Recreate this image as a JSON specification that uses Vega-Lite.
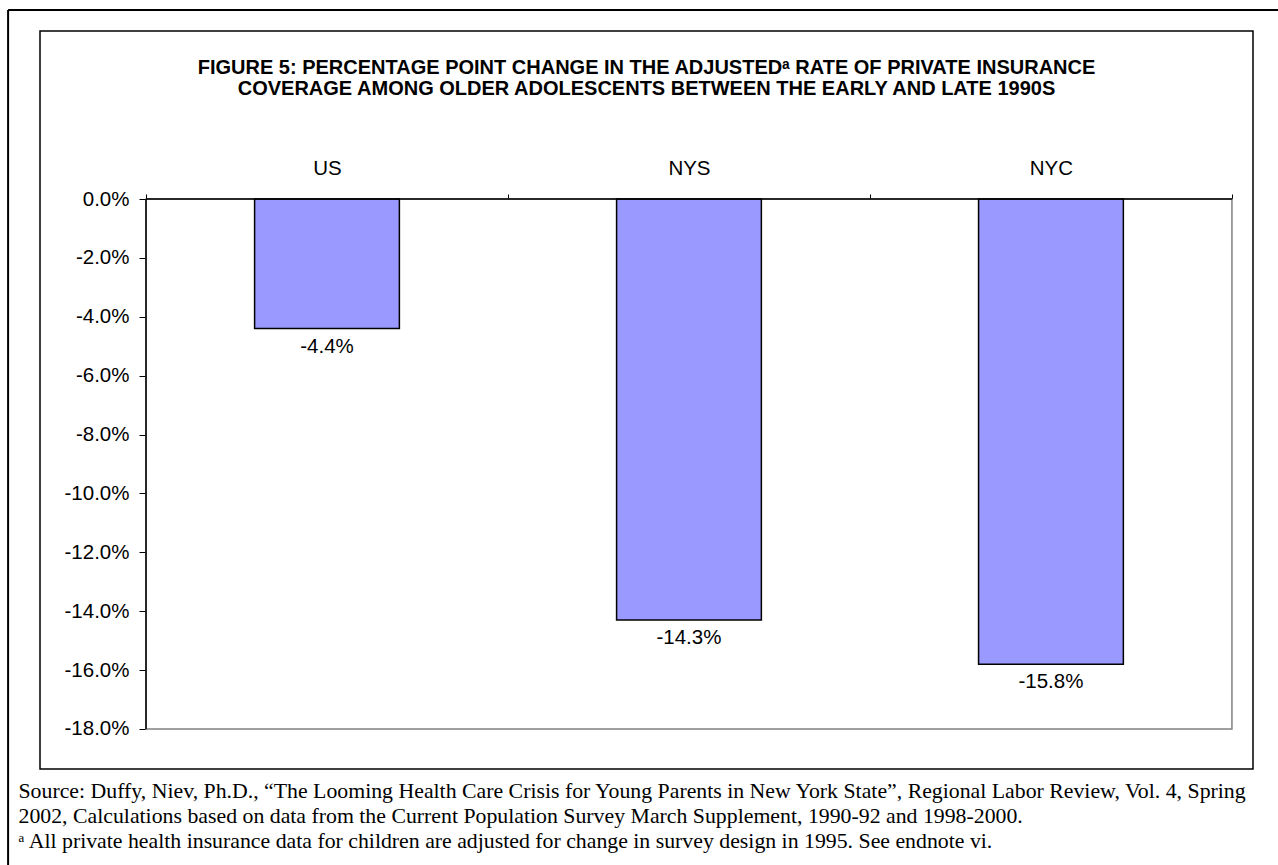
{
  "$schema": "https://vega.github.io/schema/vega-lite/v6.json",
  "width": 1213,
  "height": 738,
  "autosize": {"type": "none"},
  "padding": {"left": 40, "top": 31, "right": 25, "bottom": 96},
  "background": "white",
  "config": {
    "locale": {"number": {"decimal": ".", "thousands": ",", "grouping": [3], "currency": ["$", ""], "minus": "-"}},
    "view": {"stroke": "#000000", "strokeWidth": 1.5},
    "font": "Liberation Sans"
  },
  "title": {
    "text": ["FIGURE 5: PERCENTAGE POINT CHANGE IN THE ADJUSTEDᵃ RATE OF PRIVATE INSURANCE", "COVERAGE AMONG OLDER ADOLESCENTS BETWEEN THE EARLY AND LATE 1990S"],
    "anchor": "middle",
    "frame": "group",
    "font": "Liberation Sans",
    "fontSize": 20,
    "fontWeight": "bold",
    "color": "#000000",
    "lineHeight": 21,
    "baseline": "alphabetic",
    "offset": -106
  },
  "data": {"values": [
    {"region": "US", "change": -0.044},
    {"region": "NYS", "change": -0.143},
    {"region": "NYC", "change": -0.158}
  ]},
  "resolve": {"axis": {"x": "independent"}},
  "layer": [
    {
      "data": {"values": [{}]},
      "mark": {"type": "rect", "fill": null, "stroke": "#808080", "strokeWidth": 1.5},
      "encoding": {
        "x": {"datum": "US", "bandPosition": 0, "type": "nominal", "scale": {"type": "band", "domain": ["US", "NYS", "NYC"], "paddingInner": 0, "paddingOuter": 0.1755, "align": 0.8343}, "axis": null},
        "x2": {"datum": "NYC", "bandPosition": 1},
        "y": {"datum": 0, "type": "quantitative", "scale": {"domain": [-0.193585, 0.057057], "nice": false, "zero": false}},
        "y2": {"datum": -0.18}
      }
    },
    {
      "mark": {"type": "bar", "width": {"band": 0.4}, "fill": "#9999ff", "stroke": "#000000", "strokeWidth": 1.5},
      "encoding": {
        "x": {
          "field": "region", "type": "nominal", "sort": ["US", "NYS", "NYC"],
          "axis": {
            "orient": "top", "offset": -168, "domain": false, "ticks": true, "tickBand": "extent",
            "tickSize": 5, "tickColor": "#000000", "tickWidth": 1, "labelPadding": 20,
            "labelBaseline": "alphabetic", "labelAngle": 0, "labelFont": "Liberation Sans",
            "labelFontSize": 20.5, "labelColor": "#000000", "title": null
          }
        },
        "y": {
          "field": "change", "type": "quantitative",
          "axis": {
            "orient": "left", "offset": -106, "domain": false, "grid": false,
            "values": [-0.18, -0.16, -0.14, -0.12, -0.1, -0.08, -0.06, -0.04, -0.02, 0],
            "format": ".1%", "tickSize": 7, "tickColor": "#000000", "tickWidth": 1,
            "labelPadding": 10, "labelFont": "Liberation Sans", "labelFontSize": 20.5,
            "labelColor": "#000000", "title": null
          }
        },
        "y2": {"datum": 0}
      }
    },
    {
      "data": {"values": [{}]},
      "mark": {"type": "rule", "stroke": "#000000", "strokeWidth": 1.5},
      "encoding": {
        "x": {"datum": "US", "bandPosition": 0, "type": "nominal", "axis": null},
        "x2": {"datum": "NYC", "bandPosition": 1},
        "y": {"datum": 0, "type": "quantitative"}
      }
    },
    {
      "data": {"values": [{}]},
      "mark": {"type": "rule", "stroke": "#000000", "strokeWidth": 1.5},
      "encoding": {
        "x": {"datum": "US", "bandPosition": 0, "type": "nominal", "axis": null},
        "y": {"datum": 0, "type": "quantitative"},
        "y2": {"datum": -0.18}
      }
    },
    {
      "data": {"values": [{}]},
      "mark": {"type": "rule", "stroke": "#000000", "strokeWidth": 2},
      "encoding": {
        "x": {"datum": "US", "bandPosition": -0.381, "type": "nominal", "axis": null},
        "x2": {"datum": "NYC", "bandPosition": 1.3},
        "y": {"datum": 0.06419, "type": "quantitative"}
      }
    },
    {
      "data": {"values": [{}]},
      "mark": {"type": "rule", "stroke": "#000000", "strokeWidth": 2},
      "encoding": {
        "x": {"datum": "US", "bandPosition": -0.381, "type": "nominal", "axis": null},
        "y": {"datum": 0.06419, "type": "quantitative"},
        "y2": {"datum": -0.32}
      }
    },
    {
      "mark": {"type": "text", "baseline": "top", "dy": 8, "font": "Liberation Sans", "fontSize": 20.5, "color": "#000000"},
      "encoding": {
        "x": {
          "field": "region", "type": "nominal", "sort": ["US", "NYS", "NYC"],
          "axis": {
            "orient": "bottom", "domain": false, "ticks": false, "labels": false,
            "title": ["Source: Duffy, Niev, Ph.D., “The Looming Health Care Crisis for Young Parents in New York State”, Regional Labor Review, Vol. 4, Spring", "2002, Calculations based on data from the Current Population Survey March Supplement, 1990-92 and 1998-2000.", "ᵃ All private health insurance data for children are adjusted for change in survey design in 1995.  See endnote vi."],
            "titleFont": "Liberation Serif", "titleFontSize": 21.8, "titleFontWeight": "normal",
            "titleColor": "#000000", "titleAlign": "left", "titleAnchor": "start",
            "titleX": -22, "titleY": 28, "titleBaseline": "alphabetic", "titleLineHeight": 25, "titleAngle": 0
          }
        },
        "y": {"field": "change", "type": "quantitative"},
        "text": {"field": "change", "type": "quantitative", "format": ".1%"}
      }
    }
  ]
}
